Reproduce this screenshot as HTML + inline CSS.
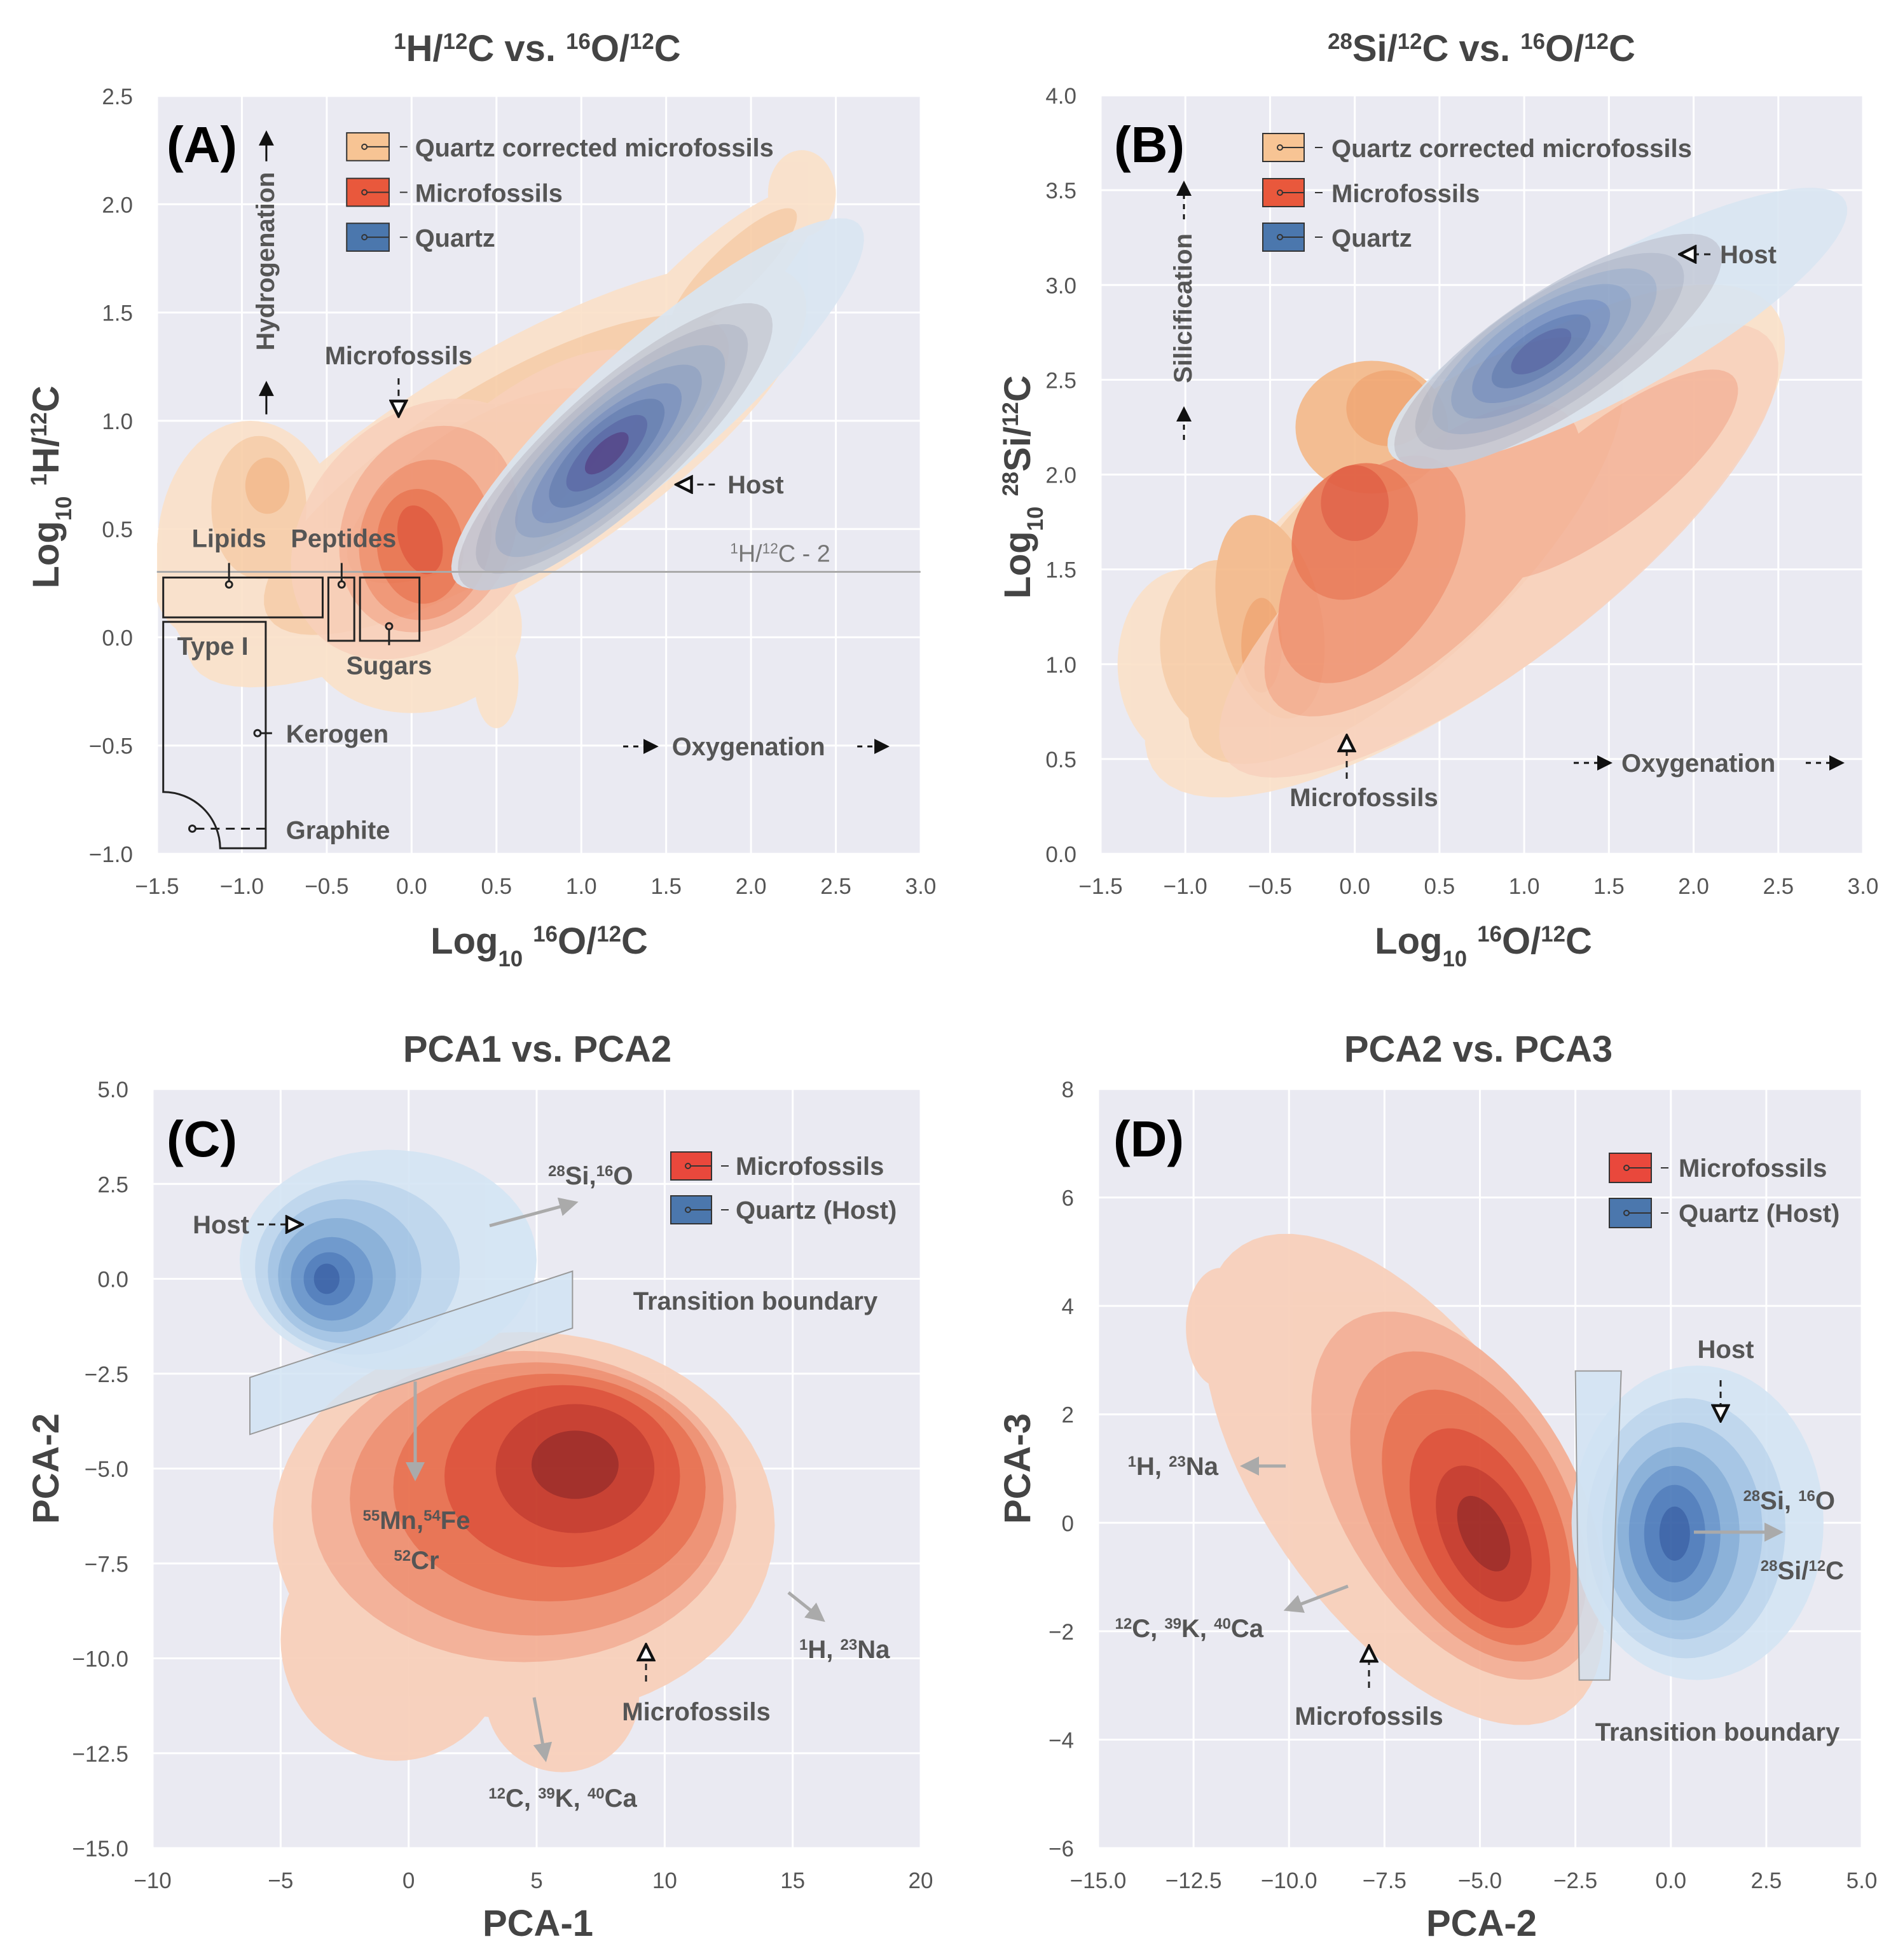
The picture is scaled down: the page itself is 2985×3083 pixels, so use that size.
<!DOCTYPE html>
<html><head><meta charset="utf-8"><style>
html,body{margin:0;padding:0;background:#fff;}
svg{display:block;font-family:"Liberation Sans",Arial,sans-serif;}
.t{font-weight:bold;fill:#555;font-size:40px;}
.tl{font-size:35px;fill:#555;}
.ttl{font-weight:bold;fill:#444;font-size:58px;}
.ax{font-weight:bold;fill:#444;font-size:58px;}
.pl{font-weight:bold;fill:#000;font-size:80px;}
</style></head><body>
<svg id="fig" width="2985" height="3083" viewBox="0 0 2985 3083" xmlns="http://www.w3.org/2000/svg">
<defs>
<marker id="ah" markerWidth="8" markerHeight="8" refX="6" refY="4" orient="auto"><path d="M0,0 L8,4 L0,8 z" fill="#111"/></marker>
<marker id="aho" markerWidth="10" markerHeight="10" refX="8" refY="5" orient="auto"><path d="M1,1 L9,5 L1,9 z" fill="#fff" stroke="#111" stroke-width="1.5"/></marker>
<marker id="ahg" markerWidth="6" markerHeight="6" refX="4" refY="3" orient="auto"><path d="M0,0 L6,3 L0,6 z" fill="#aaa"/></marker>
</defs>
<g id="layers"></g>
<g id="annot">
<!-- Titles -->
<text class="ttl" x="845" y="96" text-anchor="middle"><tspan baseline-shift="super" font-size="60%">1</tspan>H/<tspan baseline-shift="super" font-size="60%">12</tspan>C vs. <tspan baseline-shift="super" font-size="60%">16</tspan>O/<tspan baseline-shift="super" font-size="60%">12</tspan>C</text>
<text class="ttl" x="2330" y="96" text-anchor="middle"><tspan baseline-shift="super" font-size="60%">28</tspan>Si/<tspan baseline-shift="super" font-size="60%">12</tspan>C vs. <tspan baseline-shift="super" font-size="60%">16</tspan>O/<tspan baseline-shift="super" font-size="60%">12</tspan>C</text>
<text class="ttl" x="845" y="1670" text-anchor="middle">PCA1 vs. PCA2</text>
<text class="ttl" x="2325" y="1670" text-anchor="middle">PCA2 vs. PCA3</text>
<!-- Axis labels -->
<text class="ax" x="848" y="1500" text-anchor="middle">Log<tspan baseline-shift="sub" font-size="60%">10</tspan> <tspan baseline-shift="super" font-size="60%">16</tspan>O/<tspan baseline-shift="super" font-size="60%">12</tspan>C</text>
<text class="ax" x="2333" y="1500" text-anchor="middle">Log<tspan baseline-shift="sub" font-size="60%">10</tspan> <tspan baseline-shift="super" font-size="60%">16</tspan>O/<tspan baseline-shift="super" font-size="60%">12</tspan>C</text>
<text class="ax" x="846" y="3045" text-anchor="middle">PCA-1</text>
<text class="ax" x="2330" y="3045" text-anchor="middle">PCA-2</text>
<text class="ax" transform="translate(92,766) rotate(-90)" text-anchor="middle">Log<tspan baseline-shift="sub" font-size="60%">10</tspan> <tspan baseline-shift="super" font-size="60%">1</tspan>H/<tspan baseline-shift="super" font-size="60%">12</tspan>C</text>
<text class="ax" transform="translate(1620,766) rotate(-90)" text-anchor="middle">Log<tspan baseline-shift="sub" font-size="60%">10</tspan> <tspan baseline-shift="super" font-size="60%">28</tspan>Si/<tspan baseline-shift="super" font-size="60%">12</tspan>C</text>
<text class="ax" transform="translate(92,2310) rotate(-90)" text-anchor="middle">PCA-2</text>
<text class="ax" transform="translate(1620,2310) rotate(-90)" text-anchor="middle">PCA-3</text>
<!-- Panel letters -->
<text class="pl" x="262" y="255">(A)</text>
<text class="pl" x="1752" y="255">(B)</text>
<text class="pl" x="262" y="1819">(C)</text>
<text class="pl" x="1751" y="1819">(D)</text>

<!-- Panel A annotations -->
<g transform="scale(0.995)">
<g>
<rect x="548" y="210" width="67" height="44" fill="#f7c494" stroke="#333" stroke-width="2"/>
<rect x="548" y="282" width="67" height="44" fill="#e9583c" stroke="#333" stroke-width="2"/>
<rect x="548" y="353" width="67" height="44" fill="#4b77ad" stroke="#333" stroke-width="2"/>
<g stroke="#333" stroke-width="2" fill="none"><circle cx="576" cy="232" r="4"/><line x1="580" y1="232" x2="615" y2="232"/><circle cx="576" cy="304" r="4"/><line x1="580" y1="304" x2="615" y2="304"/><circle cx="576" cy="375" r="4"/><line x1="580" y1="375" x2="615" y2="375"/><line x1="632" y1="232" x2="644" y2="232"/><line x1="632" y1="304" x2="644" y2="304"/><line x1="632" y1="375" x2="644" y2="375"/></g>
<text class="t" x="656" y="247">Quartz corrected microfossils</text>
<text class="t" x="656" y="319">Microfossils</text>
<text class="t" x="656" y="390">Quartz</text>
</g>
<line x1="248" y1="904" x2="1455" y2="904" stroke="#aaa" stroke-width="3"/>
<text x="1154" y="888" font-size="38" fill="#777"><tspan baseline-shift="super" font-size="60%">1</tspan>H/<tspan baseline-shift="super" font-size="60%">12</tspan>C - 2</text>
<g stroke="#222" stroke-width="3" fill="none">
<rect x="258" y="913" width="252" height="63"/>
<rect x="519" y="913" width="41" height="100"/>
<rect x="569" y="913" width="94" height="100"/>
<path d="M258,983 L420,983 L420,1341 L348,1341 A90,90 0 0 0 258,1252 Z"/>
<circle cx="362" cy="924" r="5"/><circle cx="540" cy="924" r="5"/><circle cx="615" cy="990" r="5"/><circle cx="407" cy="1159" r="5"/><circle cx="304" cy="1310" r="5"/>
<line x1="362" y1="890" x2="362" y2="918"/><line x1="540" y1="890" x2="540" y2="918"/><line x1="615" y1="996" x2="615" y2="1020"/>
<line x1="412" y1="1159" x2="430" y2="1159"/>
<line x1="309" y1="1310" x2="420" y2="1310" stroke-dasharray="14,10"/>
</g>
<text class="t" x="362" y="865" text-anchor="middle">Lipids</text>
<text class="t" x="543" y="865" text-anchor="middle">Peptides</text>
<text class="t" x="615" y="1066" text-anchor="middle">Sugars</text>
<text class="t" x="280" y="1035">Type I</text>
<text class="t" x="452" y="1174">Kerogen</text>
<text class="t" x="452" y="1326">Graphite</text>
<text class="t" x="630" y="576" text-anchor="middle">Microfossils</text>
<line x1="630" y1="598" x2="630" y2="655" stroke="#222" stroke-width="3" stroke-dasharray="10,8" marker-end="url(#aho)"/>
<text class="t" x="1150" y="780">Host</text>
<line x1="1130" y1="766" x2="1072" y2="766" stroke="#222" stroke-width="3" stroke-dasharray="10,8" marker-end="url(#aho)"/>
<text class="t" transform="translate(433,413) rotate(-90)" text-anchor="middle">Hydrogenation</text>
<line x1="421" y1="255" x2="421" y2="212" stroke="#111" stroke-width="3" marker-end="url(#ah)"/>
<line x1="421" y1="655" x2="421" y2="608" stroke="#111" stroke-width="3" marker-end="url(#ah)"/>
<text class="t" x="1062" y="1194">Oxygenation</text>
<line x1="985" y1="1180" x2="1035" y2="1180" stroke="#111" stroke-width="3" stroke-dasharray="8,8" marker-end="url(#ah)"/>
<line x1="1355" y1="1180" x2="1400" y2="1180" stroke="#111" stroke-width="3" stroke-dasharray="8,8" marker-end="url(#ah)"/>
</g>

<!-- Panel B annotations -->
<g>
<rect x="1986" y="210" width="65" height="44" fill="#f7c494" stroke="#333" stroke-width="2"/>
<rect x="1986" y="281" width="65" height="44" fill="#e9583c" stroke="#333" stroke-width="2"/>
<rect x="1986" y="351" width="65" height="44" fill="#4b77ad" stroke="#333" stroke-width="2"/>
<g stroke="#333" stroke-width="2" fill="none"><circle cx="2013" cy="232" r="4"/><line x1="2017" y1="232" x2="2051" y2="232"/><circle cx="2013" cy="303" r="4"/><line x1="2017" y1="303" x2="2051" y2="303"/><circle cx="2013" cy="373" r="4"/><line x1="2017" y1="373" x2="2051" y2="373"/><line x1="2068" y1="232" x2="2080" y2="232"/><line x1="2068" y1="303" x2="2080" y2="303"/><line x1="2068" y1="373" x2="2080" y2="373"/></g>
<text class="t" x="2094" y="247">Quartz corrected microfossils</text>
<text class="t" x="2094" y="318">Microfossils</text>
<text class="t" x="2094" y="388">Quartz</text>
</g>
<text class="t" transform="translate(1874,485) rotate(-90)" text-anchor="middle">Silicification</text>
<line x1="1862" y1="345" x2="1862" y2="290" stroke="#111" stroke-width="3" stroke-dasharray="8,8" marker-end="url(#ah)"/>
<line x1="1862" y1="692" x2="1862" y2="645" stroke="#111" stroke-width="3" stroke-dasharray="8,8" marker-end="url(#ah)"/>
<text class="t" x="2705" y="414">Host</text>
<line x1="2690" y1="400" x2="2645" y2="400" stroke="#222" stroke-width="3" stroke-dasharray="10,8" marker-end="url(#aho)"/>
<text class="t" x="2145" y="1268" text-anchor="middle">Microfossils</text>
<line x1="2118" y1="1225" x2="2118" y2="1160" stroke="#222" stroke-width="3" stroke-dasharray="10,8" marker-end="url(#aho)"/>
<text class="t" x="2550" y="1214">Oxygenation</text>
<line x1="2475" y1="1200" x2="2530" y2="1200" stroke="#111" stroke-width="3" stroke-dasharray="8,8" marker-end="url(#ah)"/>
<line x1="2840" y1="1200" x2="2895" y2="1200" stroke="#111" stroke-width="3" stroke-dasharray="8,8" marker-end="url(#ah)"/>

<!-- Panel C annotations -->
<g>
<rect x="1055" y="1812" width="64" height="44" fill="#e9483c" stroke="#333" stroke-width="2"/>
<rect x="1055" y="1881" width="64" height="44" fill="#4b77ad" stroke="#333" stroke-width="2"/>
<g stroke="#333" stroke-width="2" fill="none"><circle cx="1082" cy="1834" r="4"/><line x1="1086" y1="1834" x2="1119" y2="1834"/><circle cx="1082" cy="1903" r="4"/><line x1="1086" y1="1903" x2="1119" y2="1903"/><line x1="1134" y1="1834" x2="1146" y2="1834"/><line x1="1134" y1="1903" x2="1146" y2="1903"/></g>
<text class="t" x="1157" y="1848">Microfossils</text>
<text class="t" x="1157" y="1917">Quartz (Host)</text>
</g>
<text class="t" x="392" y="1940" text-anchor="end">Host</text>
<line x1="405" y1="1926" x2="472" y2="1926" stroke="#222" stroke-width="3" stroke-dasharray="10,8" marker-end="url(#aho)"/>
<text class="t" x="862" y="1863"><tspan baseline-shift="super" font-size="60%">28</tspan>Si,<tspan baseline-shift="super" font-size="60%">16</tspan>O</text>
<line x1="770" y1="1928" x2="900" y2="1893" stroke="#aaa" stroke-width="5" marker-end="url(#ahg)"/>
<text class="t" x="1188" y="2060" text-anchor="middle">Transition boundary</text>
<text class="t" x="655" y="2405" text-anchor="middle"><tspan baseline-shift="super" font-size="60%">55</tspan>Mn,<tspan baseline-shift="super" font-size="60%">54</tspan>Fe</text>
<text class="t" x="655" y="2468" text-anchor="middle"><tspan baseline-shift="super" font-size="60%">52</tspan>Cr</text>
<line x1="653" y1="2173" x2="653" y2="2320" stroke="#aaa" stroke-width="5" marker-end="url(#ahg)"/>
<text class="t" x="1257" y="2608"><tspan baseline-shift="super" font-size="60%">1</tspan>H, <tspan baseline-shift="super" font-size="60%">23</tspan>Na</text>
<line x1="1240" y1="2505" x2="1290" y2="2545" stroke="#aaa" stroke-width="5" marker-end="url(#ahg)"/>
<text class="t" x="1095" y="2706" text-anchor="middle">Microfossils</text>
<line x1="1016" y1="2645" x2="1016" y2="2590" stroke="#222" stroke-width="3" stroke-dasharray="10,8" marker-end="url(#aho)"/>
<text class="t" x="885" y="2842" text-anchor="middle"><tspan baseline-shift="super" font-size="60%">12</tspan>C, <tspan baseline-shift="super" font-size="60%">39</tspan>K, <tspan baseline-shift="super" font-size="60%">40</tspan>Ca</text>
<line x1="840" y1="2670" x2="857" y2="2762" stroke="#aaa" stroke-width="5" marker-end="url(#ahg)"/>

<!-- Panel D annotations -->
<g>
<rect x="2531" y="1814" width="66" height="46" fill="#e9483c" stroke="#333" stroke-width="2"/>
<rect x="2531" y="1885" width="66" height="46" fill="#4b77ad" stroke="#333" stroke-width="2"/>
<g stroke="#333" stroke-width="2" fill="none"><circle cx="2558" cy="1837" r="4"/><line x1="2562" y1="1837" x2="2597" y2="1837"/><circle cx="2558" cy="1908" r="4"/><line x1="2562" y1="1908" x2="2597" y2="1908"/><line x1="2612" y1="1837" x2="2624" y2="1837"/><line x1="2612" y1="1908" x2="2624" y2="1908"/></g>
<text class="t" x="2640" y="1851">Microfossils</text>
<text class="t" x="2640" y="1922">Quartz (Host)</text>
</g>
<text class="t" x="2714" y="2136" text-anchor="middle">Host</text>
<line x1="2706" y1="2171" x2="2706" y2="2232" stroke="#222" stroke-width="3" stroke-dasharray="10,8" marker-end="url(#aho)"/>
<text class="t" x="1916" y="2320" text-anchor="end"><tspan baseline-shift="super" font-size="60%">1</tspan>H, <tspan baseline-shift="super" font-size="60%">23</tspan>Na</text>
<line x1="2022" y1="2306" x2="1960" y2="2306" stroke="#aaa" stroke-width="5" marker-end="url(#ahg)"/>
<text class="t" x="2886" y="2374" text-anchor="end"><tspan baseline-shift="super" font-size="60%">28</tspan>Si, <tspan baseline-shift="super" font-size="60%">16</tspan>O</text>
<text class="t" x="2900" y="2484" text-anchor="end"><tspan baseline-shift="super" font-size="60%">28</tspan>Si/<tspan baseline-shift="super" font-size="60%">12</tspan>C</text>
<line x1="2664" y1="2410" x2="2795" y2="2410" stroke="#aaa" stroke-width="5" marker-end="url(#ahg)"/>
<text class="t" x="1987" y="2575" text-anchor="end"><tspan baseline-shift="super" font-size="60%">12</tspan>C, <tspan baseline-shift="super" font-size="60%">39</tspan>K, <tspan baseline-shift="super" font-size="60%">40</tspan>Ca</text>
<line x1="2120" y1="2495" x2="2028" y2="2530" stroke="#aaa" stroke-width="5" marker-end="url(#ahg)"/>
<text class="t" x="2153" y="2713" text-anchor="middle">Microfossils</text>
<line x1="2153" y1="2655" x2="2153" y2="2592" stroke="#222" stroke-width="3" stroke-dasharray="10,8" marker-end="url(#aho)"/>
<text class="t" x="2701" y="2738" text-anchor="middle">Transition boundary</text>
</g>
</svg>
<script>
// ---- Data arrays ----
const aXTicks = [-1.5,-1.0,-0.5,0.0,0.5,1.0,1.5,2.0,2.5,3.0];
const aYTicks = [-1.0,-0.5,0.0,0.5,1.0,1.5,2.0,2.5];
const bXTicks = [-1.5,-1.0,-0.5,0.0,0.5,1.0,1.5,2.0,2.5,3.0];
const bYTicks = [0.0,0.5,1.0,1.5,2.0,2.5,3.0,3.5,4.0];
const cXTicks = [-10,-5,0,5,10,15,20];
const cYTicks = [-15.0,-12.5,-10.0,-7.5,-5.0,-2.5,0.0,2.5,5.0];
const dXTicks = [-15.0,-12.5,-10.0,-7.5,-5.0,-2.5,0.0,2.5,5.0];
const dYTicks = [-6,-4,-2,0,2,4,6,8];
// Density contour levels: each level = list of [cx, cy, a, b, angleDeg] in data units
const aPeachLevels = [
 [[0.5,0.75,2.0,0.55,25],[-0.95,0.4,0.55,0.6,0],[0.0,0.05,0.65,0.4,0],[0.5,-0.2,0.13,0.22,0],[1.7,1.55,0.85,0.22,36],[2.3,2.05,0.2,0.2,0],[-1.25,0.3,0.28,0.3,0]],
 [[-0.9,0.6,0.28,0.33,0],[0.5,0.75,1.5,0.42,25],[1.9,1.7,0.45,0.12,36]],
 [[-0.85,0.7,0.13,0.13,0],[0.4,0.7,0.85,0.3,25]]
];
const aRedLevels = [
 [[0.05,0.5,0.8,0.55,25],[0.6,0.8,0.9,0.32,30]],
 [[0.1,0.5,0.55,0.45,30]],
 [[0.08,0.45,0.4,0.36,30]],
 [[0.05,0.42,0.25,0.27,30]],
 [[0.05,0.45,0.12,0.17,30]]
];
const aBlueLevels = [
 [[1.45,1.08,1.45,0.33,34]],[[1.2,0.88,1.1,0.3,34]],[[1.18,0.87,0.95,0.27,34]],
 [[1.17,0.86,0.8,0.24,34]],[[1.16,0.86,0.65,0.2,34]],[[1.15,0.85,0.52,0.17,34]],
 [[1.15,0.85,0.4,0.14,34]],[[1.15,0.85,0.28,0.1,34]],[[1.15,0.85,0.15,0.06,34]]
];
const bPeachLevels = [
 [[0.65,1.65,2.2,0.75,33],[-1.0,1.0,0.4,0.5,0]],
 [[0.3,1.6,1.6,0.6,40],[-0.8,1.1,0.35,0.45,0]],
 [[-0.5,1.25,0.3,0.55,15],[0.1,2.25,0.45,0.35,0]],
 [[0.2,2.35,0.25,0.2,0],[-0.55,1.1,0.12,0.25,0]]
];
const bRedLevels = [
 [[0.85,1.6,1.95,0.6,34]],
 [[0.4,1.55,1.15,0.48,40],[1.5,2.0,0.9,0.28,34]],
 [[0.1,1.5,0.7,0.42,50]],
 [[0.0,1.7,0.4,0.33,40]],
 [[0.0,1.85,0.2,0.2,40]]
];
const bBlueLevels = [
 [[1.55,2.78,1.5,0.36,26]],[[1.2,2.65,1.1,0.33,30]],[[1.15,2.65,0.9,0.3,30]],
 [[1.12,2.65,0.75,0.26,30]],[[1.1,2.65,0.6,0.22,30]],[[1.1,2.65,0.46,0.17,30]],
 [[1.1,2.65,0.33,0.12,30]],[[1.1,2.65,0.2,0.08,30]]
];
const cRedLevels = [
 [[4.5,-6.5,9.8,5.1,0],[-0.5,-9.5,4.5,3.2,0],[6,-11,3,2,0]],
 [[4.5,-6,8.3,4.1,0]],[[5,-5.8,7.3,3.6,0]],[[5.5,-5.5,6.1,3.0,0]],
 [[6,-5.2,4.6,2.4,0]],[[6.5,-5,3.1,1.7,0]],[[6.5,-4.9,1.7,0.9,0]]
];
const cBlueLevels = [
 [[-0.8,0.5,5.8,2.9,0]],[[-2,0.3,4.0,2.3,0]],[[-2.5,0.2,3.0,1.9,0]],[[-2.8,0.1,2.3,1.5,0]],
 [[-3,0,1.6,1.1,0]],[[-3.1,0,1.0,0.7,0]],[[-3.2,0,0.5,0.4,0]]
];
const cBoundaryX = [-6.2,6.4,6.4,-6.2];
const cBoundaryY = [-2.6,0.2,-1.3,-4.1];
const dRedLevels = [
 [[-7,0.8,6.2,3.1,-38],[-11.8,3.6,0.9,1.1,0]],
 [[-5.6,0.5,4.4,2.6,-38]],[[-5.3,0.3,3.6,2.2,-40]],[[-5.1,0.1,2.9,1.8,-42]],
 [[-5,-0.1,2.2,1.4,-45]],[[-4.9,-0.2,1.5,0.95,-45]],[[-4.9,-0.2,0.85,0.5,-45]]
];
const dBlueLevels = [
 [[0.7,0,3.3,2.9,0]],[[0.4,-0.1,2.6,2.4,0]],[[0.3,-0.15,2.1,2.0,0]],[[0.2,-0.2,1.6,1.6,0]],
 [[0.1,-0.2,1.2,1.25,0]],[[0.1,-0.2,0.8,0.9,0]],[[0.1,-0.2,0.4,0.5,0]]
];
const dBoundaryX = [-2.5,-1.3,-1.6,-2.4];
const dBoundaryY = [2.8,2.8,-2.9,-2.9];

// ---- Palettes (style) ----
const peachPal = ['#fbe1c8','#f8cda6','#f4b988','#f1a46c'];
const redPal = ['#f8d0bb','#f4b096','#ef9071','#e8704f','#de5037','#c73a2a','#a02822'];
const bluePalAB = ['#d9e6f2','#c5ccd9','#b4bccd','#a0b0ca','#8ca2c6','#7590c1','#5f7db5','#4f65a8','#463f8a'];
const bluePalCD = ['#d4e5f4','#bcd5ed','#a0c3e4','#82acd7','#6392c9','#4877b9','#305ca4'];

const NS = 'http://www.w3.org/2000/svg';
const root = document.getElementById('layers');
function mk(tag, parent){ const e=document.createElementNS(NS,tag); parent.appendChild(e); return e; }

function makePanel(id, x0, x1, y0, y1, xd, yd){
  return {id, x0, x1, y0, y1,
    sx: v => x0 + (v - xd[0])/(xd[1]-xd[0])*(x1-x0),
    sy: v => y1 - (v - yd[0])/(yd[1]-yd[0])*(y1-y0)};
}
const PA = makePanel('a',247,1448,151,1343,[-1.5,3.0],[-1.0,2.5]);
const PB = makePanel('b',1731,2930,150,1343,[-1.5,3.0],[0,4]);
const PC = makePanel('c',240,1448,1713,2907,[-10,20],[-15,5]);
const PD = makePanel('d',1727,2928,1713,2907,[-15,5],[-6,8]);

function fmt(v, dec){ const s = Math.abs(v).toFixed(dec); return (v<0?'\u2212':'')+s; }

function drawAxes(P, xt, yt, xdec, ydec){
  const g = mk('g', root);
  
  
  const bg = mk('rect', g);
  
  
  bg.setAttribute('x',P.x0); bg.setAttribute('y',P.y0);
  bg.setAttribute('width',P.x1-P.x0); bg.setAttribute('height',P.y1-P.y0);
  bg.setAttribute('fill','#eaeaf2');
  xt.forEach(v=>{
    const l = mk('line', g);
    
    
    const x=P.sx(v); l.setAttribute('x1',x); l.setAttribute('x2',x); l.setAttribute('y1',P.y0); l.setAttribute('y2',P.y1);
    l.setAttribute('stroke','#fff'); l.setAttribute('stroke-width','3');
    const t = mk('text', g);
    
    
    t.setAttribute('class','tl'); t.setAttribute('x',x); t.setAttribute('y',P.y1+63); t.setAttribute('text-anchor','middle');
    t.textContent = fmt(v,xdec);
  });
  yt.forEach(v=>{
    const l = mk('line', g);
    
    
    const y=P.sy(v); l.setAttribute('y1',y); l.setAttribute('y2',y); l.setAttribute('x1',P.x0); l.setAttribute('x2',P.x1);
    l.setAttribute('stroke','#fff'); l.setAttribute('stroke-width','3');
    const t = mk('text', g);
    
    
    t.setAttribute('class','tl'); t.setAttribute('x',P.x0-38); t.setAttribute('y',y+13); t.setAttribute('text-anchor','end');
    t.textContent = fmt(v,ydec);
  });
  const cp = mk('clipPath', g);
  cp.setAttribute('id','clip-'+P.id);
  const cr = mk('rect', cp);
  cr.setAttribute('x',P.x0); cr.setAttribute('y',P.y0); cr.setAttribute('width',P.x1-P.x0); cr.setAttribute('height',P.y1-P.y0);
  const plot = mk('g', root);
  
  
  plot.setAttribute('clip-path','url(#clip-'+P.id+')');
  return plot;
}

function ellPath(P, s){
  const [cx,cy,a,b,deg]=s, th=deg*Math.PI/180; let d='';
  for(let i=0;i<=72;i++){
    const t=i/72*2*Math.PI;
    const x=cx + a*Math.cos(t)*Math.cos(th) - b*Math.sin(t)*Math.sin(th);
    const y=cy + a*Math.cos(t)*Math.sin(th) + b*Math.sin(t)*Math.cos(th);
    d += (i?'L':'M') + P.sx(x).toFixed(1)+','+P.sy(y).toFixed(1);
  }
  return d+'Z';
}

function drawDensity(P, plot, levels, pal, name, opacity){
  const g = mk('g', plot);
  
  
  g.setAttribute('opacity', opacity);
  levels.forEach((lv,i)=>{
    const p = mk('path', g);
    
    
    p.setAttribute('d', lv.map(s=>ellPath(P,s)).join(' '));
    p.setAttribute('fill', pal[Math.min(i,pal.length-1)]);
    p.setAttribute('stroke', 'none');
  });
}

function drawBoundary(P, plot, xs, ys, name){
  const p = mk('path', plot);
  
  
  p.setAttribute('d', xs.map((x,i)=>(i?'L':'M')+P.sx(x)+','+P.sy(ys[i])).join('')+'Z');
  p.setAttribute('fill','#cfe2f3'); p.setAttribute('fill-opacity','0.8');
  p.setAttribute('stroke','#999'); p.setAttribute('stroke-width','2');
}

let pl;
pl = drawAxes(PA, aXTicks, aYTicks, 1, 1);
drawDensity(PA, pl, aPeachLevels, peachPal, 'quartz-corrected-density-a', 0.9);
drawDensity(PA, pl, aRedLevels, redPal, 'microfossils-density-a', 0.85);
drawDensity(PA, pl, aBlueLevels, bluePalAB, 'quartz-density-a', 0.9);

pl = drawAxes(PB, bXTicks, bYTicks, 1, 1);
drawDensity(PB, pl, bPeachLevels, peachPal, 'quartz-corrected-density-b', 0.9);
drawDensity(PB, pl, bRedLevels, redPal, 'microfossils-density-b', 0.8);
drawDensity(PB, pl, bBlueLevels, bluePalAB, 'quartz-density-b', 0.9);

pl = drawAxes(PC, cXTicks, cYTicks, 0, 1);
drawDensity(PC, pl, cRedLevels, redPal, 'microfossils-density-c', 0.95);
drawDensity(PC, pl, cBlueLevels, bluePalCD, 'quartz-host-density-c', 0.9);
drawBoundary(PC, pl, cBoundaryX, cBoundaryY, 'transition-boundary-c');

pl = drawAxes(PD, dXTicks, dYTicks, 1, 0);
drawDensity(PD, pl, dRedLevels, redPal, 'microfossils-density-d', 0.95);
drawDensity(PD, pl, dBlueLevels, bluePalCD, 'quartz-host-density-d', 0.9);
drawBoundary(PD, pl, dBoundaryX, dBoundaryY, 'transition-boundary-d');
</script>
</body></html>
